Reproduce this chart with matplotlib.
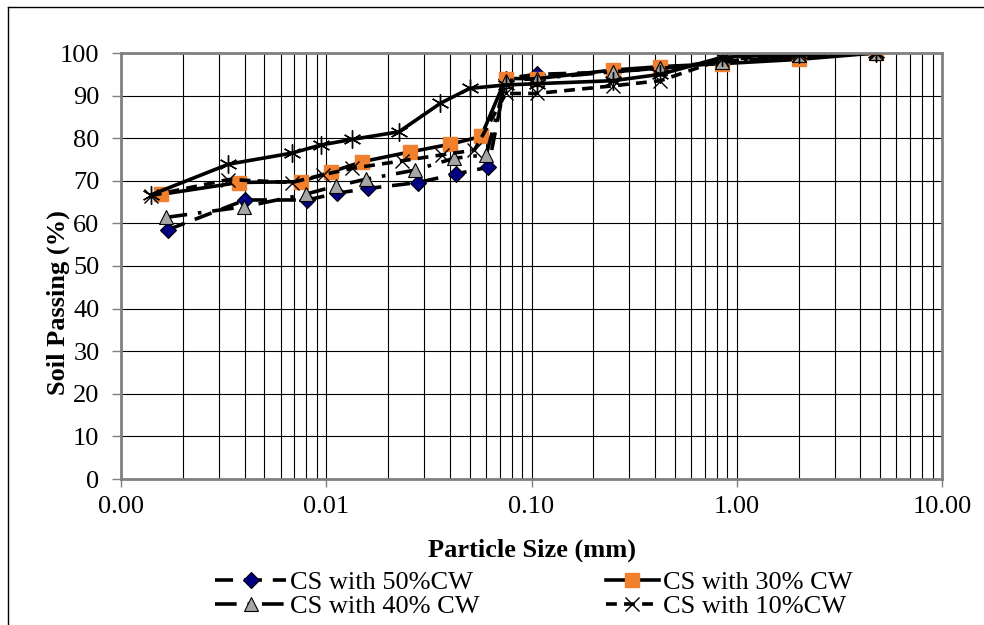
import matplotlib
matplotlib.use("Agg")
import matplotlib.pyplot as plt
from matplotlib.lines import Line2D
from matplotlib.ticker import FixedLocator, FixedFormatter, LogLocator, NullFormatter

plt.rcParams["font.family"] = ["Liberation Serif", "DejaVu Serif"]

# ── data ─────────────────────────────────────────────────────────────────────
x_50 = [0.00169, 0.00403, 0.0081, 0.0113, 0.0160, 0.0280, 0.0429, 0.0616, 0.075, 0.106, 0.25, 0.425, 0.85, 2.0, 4.75]
y_50 = [58.5, 65.5, 65.5, 67.1, 68.2, 69.6, 71.6, 73.2, 94.0, 95.0, 95.5, 96.5, 98.0, 99.0, 100.0]

x_30 = [0.00156, 0.00374, 0.0075, 0.0106, 0.0150, 0.0257, 0.0403, 0.0568, 0.075, 0.106, 0.25, 0.425, 0.85, 2.0, 4.75]
y_30 = [66.8, 69.6, 69.8, 72.1, 74.5, 76.8, 78.6, 80.4, 94.0, 94.0, 96.0, 96.8, 97.5, 98.5, 100.0]

x_40 = [0.00165, 0.00396, 0.0080, 0.0112, 0.0157, 0.0270, 0.0420, 0.0602, 0.075, 0.106, 0.25, 0.425, 0.85, 2.0, 4.75]
y_40 = [61.4, 63.9, 66.9, 68.8, 70.4, 72.5, 75.3, 76.1, 93.5, 94.0, 95.6, 96.4, 97.8, 99.5, 100.0]

x_10 = [0.0014, 0.00334, 0.0068, 0.0096, 0.0133, 0.0235, 0.0366, 0.0527, 0.075, 0.106, 0.25, 0.425, 0.85, 2.0, 4.75]
y_10 = [66.5, 70.3, 69.6, 71.4, 72.9, 74.7, 76.1, 77.2, 90.5, 90.5, 92.3, 93.5, 98.5, 99.5, 100.0]

# fifth series (star markers), its legend entry is cut off in the source
x_st = [0.0014, 0.00334, 0.0068, 0.0094, 0.0133, 0.0226, 0.036, 0.050, 0.075, 0.106, 0.25, 0.425, 0.85, 2.0, 4.75]
y_st = [66.7, 73.9, 76.5, 78.4, 79.7, 81.5, 88.2, 91.7, 92.5, 92.8, 93.5, 95.0, 99.0, 99.7, 100.0]

x_ticks = [0.001, 0.01, 0.1, 1, 10]
x_tick_labels = ["0.00", "0.01", "0.10", "1.00", "10.00"]
y_ticks = list(range(0, 101, 10))

FS = 19

# ── figure ───────────────────────────────────────────────────────────────────
fig = plt.figure(figsize=(9.84, 6.25), dpi=100)
ax = fig.add_axes([121 / 984, 1 - 479 / 625, (942 - 121) / 984, (479 - 53) / 625])

LW = 2.6
s50, = ax.plot(x_50, y_50, color="black", lw=LW, dashes=(5, 3),
               marker="D", ms=8, mfc="#000080", mec="black", mew=0.8, label="CS with 50%CW")
s30, = ax.plot(x_30, y_30, color="black", lw=LW, ls="-",
               marker="s", ms=10, mfc="#F07F2E", mec="#F07F2E", label="CS with 30% CW")
s40, = ax.plot(x_40, y_40, color="black", lw=LW, dashes=(6, 3, 1, 3),
               marker="^", ms=10, mfc="#A6A6A6", mec="black", mew=0.8, label="CS with 40% CW")
s10, = ax.plot(x_10, y_10, color="black", lw=LW, dashes=(3, 2),
               marker="x", ms=10, mec="black", mew=1.0, label="CS with 10%CW")
ax.plot(x_st, y_st, color="black", lw=LW, ls="-",
        marker=(6, 2, 0), ms=13, mec="black", mew=1.0)

ax.set_xscale("log")
ax.set_xlim(0.001, 10)
ax.set_ylim(0, 100)

ax.xaxis.set_major_locator(FixedLocator(x_ticks))
ax.xaxis.set_major_formatter(FixedFormatter(x_tick_labels))
ax.xaxis.set_minor_locator(LogLocator(base=10, subs=range(2, 10)))
ax.xaxis.set_minor_formatter(NullFormatter())
ax.set_yticks(y_ticks)

ax.grid(True, which="major", axis="both", color="black", lw=0.8)
ax.grid(True, which="minor", axis="x", color="black", lw=0.8)
ax.set_axisbelow(True)

for sp in ax.spines.values():
    sp.set_color("#808080")
    sp.set_linewidth(2)

ax.tick_params(axis="x", which="major", labelsize=FS, direction="out", length=6,
               width=1, color="#808080", pad=6)
ax.tick_params(axis="y", which="major", labelsize=FS, direction="out", length=6.5,
               width=1, color="#808080", pad=9)
ax.tick_params(axis="x", which="minor", length=0)

ax.set_xlabel("Particle Size (mm)", fontsize=FS, fontweight="bold", labelpad=15)
ax.set_ylabel("Soil Passing (%)", fontsize=FS, fontweight="bold")
ax.yaxis.set_label_coords(-0.062, 0.413)

# legend: two columns, drawn as two legends so each column sits where it should
leg_y = 1 - 571 / 625
left = fig.legend(handles=[s50, s40], labels=[s50.get_label(), s40.get_label()],
                  loc="upper left", bbox_to_anchor=(215 / 984, leg_y),
                  frameon=False, fontsize=FS, handlelength=2.7, handletextpad=0.15,
                  labelspacing=0.0, borderaxespad=0, borderpad=0)
right = fig.legend(handles=[s30, s10], labels=[s30.get_label(), s10.get_label()],
                   loc="upper left", bbox_to_anchor=(606 / 984, leg_y),
                   frameon=False, fontsize=FS, handlelength=2.0, handletextpad=0.15,
                   labelspacing=0.0, borderaxespad=0, borderpad=0)

# outer frame: top and left edges only
fig.add_artist(Line2D([8 / 984, 1], [1 - 7 / 625, 1 - 7 / 625], color="black", lw=1))
fig.add_artist(Line2D([8 / 984, 8 / 984], [0, 1 - 7 / 625], color="black", lw=1))

fig.savefig("out.png", dpi=100)
